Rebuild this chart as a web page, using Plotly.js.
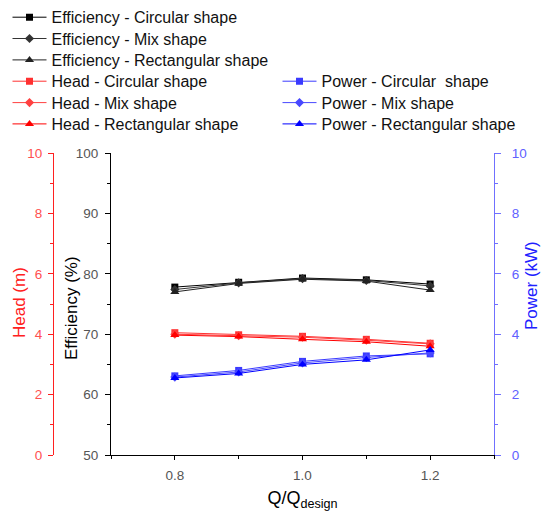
<!DOCTYPE html>
<html>
<head>
<meta charset="utf-8">
<script src="https://cdn.plot.ly/plotly-3.0.1.min.js"></script>
<style>html,body{margin:0;padding:0;background:#fff;}</style>
</head>
<body>
<div id="chart" style="width:543px;height:514px;"></div>
<script>
const flowRatio = [0.8, 0.9, 1.0, 1.1, 1.2];
const effCircular = [77.8, 78.6, 79.3, 79.0, 78.3];
const effMix = [77.4, 78.5, 79.2, 78.9, 78.0];
const effRect = [77.0, 78.4, 79.1, 78.8, 77.3];
const headCircular = [4.05, 3.98, 3.93, 3.83, 3.7];
const headMix = [4.0, 3.95, 3.9, 3.8, 3.68];
const headRect = [3.97, 3.92, 3.83, 3.75, 3.6];
const powerCircular = [2.62, 2.8, 3.1, 3.28, 3.35];
const powerMix = [2.58, 2.75, 3.05, 3.23, 3.38];
const powerRect = [2.55, 2.7, 3.0, 3.15, 3.48];
const effNames = ['Efficiency - Circular shape', 'Efficiency - Mix shape', 'Efficiency - Rectangular shape'];
const headNames = ['Head - Circular shape', 'Head - Mix shape', 'Head - Rectangular shape'];
const powerNames = ['Power - Circular  shape', 'Power - Mix shape', 'Power - Rectangular shape'];
const axisTitles = {x: 'Q/Q<sub>design</sub>', eff: 'Efficiency (%)', head: 'Head (m)', power: 'Power (kW)'};

const symbols = ['square', 'diamond', 'triangle-up'];
const effColors = ['#000000', '#333333', '#222222'];
const headColors = ['#ff3030', '#ff4040', '#ff0000'];
const powerColors = ['#3a3aff', '#4848ff', '#0000ff'];

const W = 543, H = 514, L = 40, R = 49;
const pw = W - L - R;
const dStart = (111 - L) / pw;
const headPos = (53 - L) / pw;
const ff = 'Liberation Sans, Arial, sans-serif';

// legend slots: [left px of legend box, row centre px]
const rowY = [17.3, 38.6, 60, 81.3, 102.7, 124];
const colX = [7.5, 277.5];

const traces = [];
const layout = {
  width: W, height: H,
  margin: {l: L, r: R, t: 153, b: 59, autoexpand: false},
  paper_bgcolor: '#fff', plot_bgcolor: '#fff',
  font: {family: ff, size: 13, color: '#000'},
  showlegend: true
};

let li = 0;
function addSeries(y, name, color, sym, yaxis, col, row) {
  li += 1;
  const lid = li === 1 ? 'legend' : 'legend' + li;
  traces.push({
    x: flowRatio, y: y, name: name, type: 'scatter', mode: 'lines+markers',
    yaxis: yaxis, legend: lid,
    line: {color: color, width: 1},
    marker: {symbol: sym, size: sym === 'triangle-up' ? 8 : 7, color: color}
  });
  layout[lid] = {
    xref: 'container', yref: 'container',
    x: colX[col] / W, y: 1 - rowY[row] / H, xanchor: 'left', yanchor: 'middle',
    font: {size: 16, color: '#111', family: ff}, itemwidth: 34,
    bgcolor: 'rgba(0,0,0,0)', borderwidth: 0
  };
}
[effCircular, effMix, effRect].forEach((d, i) => addSeries(d, effNames[i], effColors[i], symbols[i], 'y', 0, i));
[headCircular, headMix, headRect].forEach((d, i) => addSeries(d, headNames[i], headColors[i], symbols[i], 'y2', 0, i + 3));
[powerCircular, powerMix, powerRect].forEach((d, i) => addSeries(d, powerNames[i], powerColors[i], symbols[i], 'y3', 1, i + 3));

Object.assign(layout, {
  xaxis: {
    domain: [dStart, 1], range: [0.7, 1.3], dtick: 0.2, tick0: 0.8, tickformat: '.1f',
    showgrid: false, zeroline: false, showline: true, linecolor: '#000', linewidth: 1,
    ticks: 'outside', ticklen: 4, tickcolor: '#000', ticklabelstandoff: 4,
    minor: {dtick: 0.1, ticks: 'outside', ticklen: 3, tickcolor: '#000'},
    tickfont: {size: 13.5, color: '#555'},
    title: {text: axisTitles.x, font: {size: 18, color: '#000'}, standoff: 9}
  },
  yaxis: {
    range: [50, 100], dtick: 10, showgrid: false, zeroline: false,
    showline: true, linecolor: '#000', linewidth: 1,
    ticks: 'outside', ticklen: 5, tickcolor: '#000', ticklabelstandoff: 4,
    minor: {dtick: 5, ticks: 'outside', ticklen: 3, tickcolor: '#000'},
    tickfont: {size: 13.5, color: '#555'}
  },
  yaxis2: {
    overlaying: 'y', anchor: 'free', position: headPos, side: 'left',
    range: [0, 10], dtick: 2, showgrid: false, zeroline: false,
    showline: true, linecolor: '#ff2020', linewidth: 1,
    ticks: 'outside', ticklen: 5, tickcolor: '#ff2020', ticklabelstandoff: 3,
    minor: {dtick: 1, ticks: 'outside', ticklen: 3, tickcolor: '#ff2020'},
    tickfont: {size: 13.5, color: '#ff5050'}
  },
  yaxis3: {
    overlaying: 'y', anchor: 'x', side: 'right',
    range: [0, 10], dtick: 2, showgrid: false, zeroline: false,
    showline: true, linecolor: '#7070ff', linewidth: 1,
    ticks: 'outside', ticklen: 6, tickcolor: '#7070ff', ticklabelstandoff: 8,
    minor: {dtick: 1, ticks: 'outside', ticklen: 3, tickcolor: '#7070ff'},
    tickfont: {size: 13.5, color: '#6060ff'}
  },
  annotations: [
    {text: axisTitles.head, xref: 'paper', yref: 'paper', x: (19 - L) / pw, y: (455 - 303) / 302,
     xanchor: 'center', yanchor: 'middle',
     textangle: -90, showarrow: false, font: {size: 17, color: '#ff2020', family: ff}},
    {text: axisTitles.eff, xref: 'paper', yref: 'paper', x: (71 - L) / pw, y: (455 - 308) / 302,
     xanchor: 'center', yanchor: 'middle',
     textangle: -90, showarrow: false, font: {size: 17, color: '#000', family: ff}},
    {text: axisTitles.power, xref: 'paper', yref: 'paper', x: (531 - L) / pw, y: (455 - 286) / 302,
     xanchor: 'center', yanchor: 'middle',
     textangle: -90, showarrow: false, font: {size: 17, color: '#2020ff', family: ff}}
  ]
});

Plotly.newPlot('chart', traces, layout, {displayModeBar: false, staticPlot: true});
</script>
</body>
</html>
